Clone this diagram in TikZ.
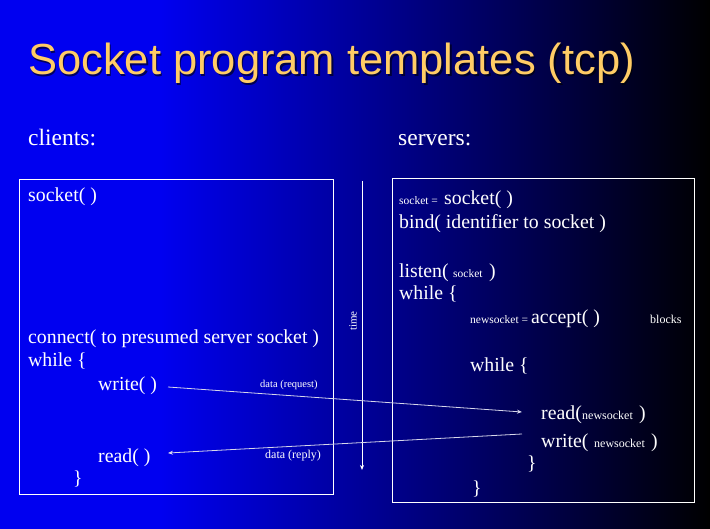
\documentclass[tikz,border=0pt]{standalone}
\usepackage{fontspec}
\setmainfont{Liberation Serif}
\newfontfamily\titlefont{Liberation Sans}
\usetikzlibrary{arrows.meta}
\definecolor{bgblue}{RGB}{0,0,240}
\definecolor{bgmid}{RGB}{0,0,135}
\definecolor{titlecol}{RGB}{255,204,102}
\definecolor{arrcol}{RGB}{215,215,235}
\newcommand{\fsz}[1]{\fontsize{#1}{#1}\selectfont}
\begin{document}
\begin{tikzpicture}[x=1pt,y=-1pt,
  txt/.style={anchor=base west, inner sep=0pt, text=white, font=\fsz{19.8}},
  sml/.style={txt, font=\fsz{11.5}},
  hdr/.style={txt, font=\fsz{23.5}},
  frame/.style={draw=white, line width=1pt, anchor=north west, inner sep=0pt},
  msg/.style={draw=arrcol, line width=0.8pt, -{Stealth[length=5pt,width=4pt]}},
  timeline/.style={draw=white, line width=0.8pt, -{Stealth[length=5pt,width=4pt]}},
]
\path[use as bounding box] (0,0) rectangle (710,529);
\fill[bgblue] (0,0) rectangle (161,529);
\shade[left color=bgblue, middle color=bgmid, right color=black] (160,0) rectangle (710,529);

% title
\node[anchor=base west, inner sep=0pt, text=black, opacity=0.6, font=\titlefont\fsz{43.5}] (titleshadow) at (29.5,76.5) {Socket program templates (tcp)};
\node[anchor=base west, inner sep=0pt, text=titlecol, font=\titlefont\fsz{43.5}] (title) at (28,75) {Socket program templates (tcp)};

\node[hdr] (clients) at (28,146) {clients:};
\node[hdr] (servers) at (398,146) {servers:};

% boxes
\node[frame, minimum width=314pt, minimum height=315pt] (cbox) at (19,179) {};
\node[frame, minimum width=302pt, minimum height=324pt] (sbox) at (392,178) {};

% time axis
\coordinate (t0) at (362,181);
\coordinate (t1) at (362,470);
\draw[timeline] (t0) -- (t1);
\node[inner sep=0pt, text=white, font=\fsz{11}, rotate=90, anchor=center] (time) at (353,321) {time};

% client text
\node[txt] (csock) at (28,202) {socket( )};
\node[txt] (cconn) at (28,344) {connect( to presumed server socket )};
\node[txt] (cwhile) at (28,367) {while \{};
\node[txt] (cwrite) at (98,391) {write( )};
\node[txt] (cread) at (98,462) {read( )};
\node[txt] (cend) at (73,484) {\}};

% server text
\node[sml] (ssockeq) at (399,205) {socket =};
\node[txt] (ssock) at (444,205) {socket( )};
\node[txt] (sbind) at (399,229) {bind( identifier to socket )};
\node[txt] (slisten) at (399,278) {listen(};
\node[sml] (slsock) at (453,278) {socket};
\node[txt] (slclose) at (489,278) {)};
\node[txt] (swhile) at (399,300) {while \{};
\node[sml] (snseq) at (470,324) {newsocket =};
\node[txt] (saccept) at (531,324) {accept( )};
\node[sml, font=\fsz{12}] (sblocks) at (650,324) {blocks};
\node[txt] (swhile2) at (470,372) {while \{};
\node[txt] (sread) at (541,420) {read(};
\node[sml, font=\fsz{12}] (srsock) at (582,420) {newsocket};
\node[txt] (srclose) at (639,420) {)};
\node[txt] (swrite) at (541,447) {write(};
\node[sml, font=\fsz{12}] (swsock) at (594,447) {newsocket};
\node[txt] (swclose) at (651,447) {)};
\node[txt] (send2) at (527,469) {\}};
\node[txt] (send1) at (472,494) {\}};

% messages
\coordinate (rqs) at (168,387);
\coordinate (rqe) at (522,412);
\coordinate (rps) at (522,434);
\coordinate (rpe) at (168,453);
\draw[msg] (rqs) -- (rqe);
\draw[msg] (rps) -- (rpe);
\node[sml, font=\fsz{10.5}] (lreq) at (260,388) {data (request)};
\node[sml, font=\fsz{12}] (lrep) at (265,458) {data (reply)};
\end{tikzpicture}
\end{document}
